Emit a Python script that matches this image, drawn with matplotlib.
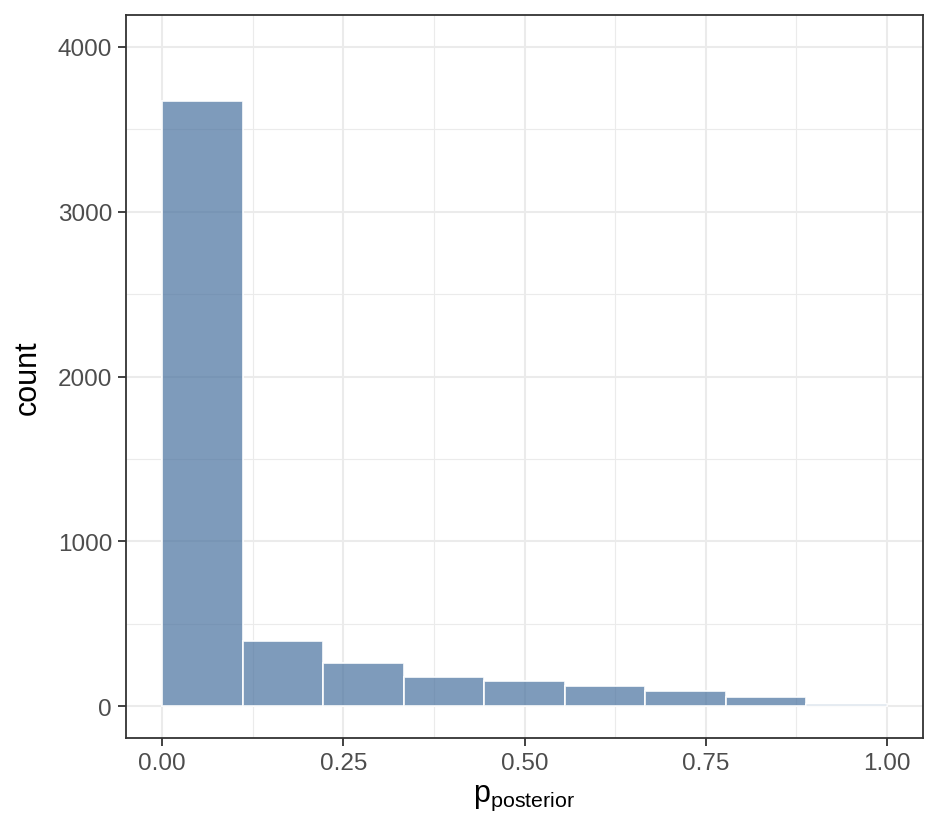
import numpy as np
import matplotlib
matplotlib.use("Agg")
import matplotlib.pyplot as plt
from matplotlib.ticker import MultipleLocator

# histogram of posterior probabilities, 9 bins on [0, 1]
bin_edges = [i / 9 for i in range(10)]
counts = [3670, 396, 260, 175, 150, 124, 90, 55, 12]

x_ticks = [0.0, 0.25, 0.5, 0.75, 1.0]
x_labels = ["0.00", "0.25", "0.50", "0.75", "1.00"]
y_ticks = [0, 1000, 2000, 3000, 4000]

plt.rcParams["font.family"] = ["Liberation Sans", "DejaVu Sans"]
plt.rcParams["mathtext.fontset"] = "custom"
plt.rcParams["mathtext.rm"] = "Liberation Sans"
plt.rcParams["mathtext.it"] = "Liberation Sans"

fig = plt.figure(figsize=(9.41, 8.37), dpi=100)
ax = fig.add_axes([126 / 941, 1 - 739 / 837, (923 - 126) / 941, (739 - 16) / 837])

lefts = np.array(bin_edges[:-1])
widths = np.diff(bin_edges)
# translucent fill (grid shows faintly through), solid-ish white outline
ax.bar(lefts, counts, width=widths, align="edge",
       facecolor=(0.282, 0.443, 0.620, 0.7),
       edgecolor=(1, 1, 1, 0.9), linewidth=1.3, zorder=3)

ax.set_xlim(-0.05, 1.05)
ax.set_ylim(-194, 4194)

ax.set_xticks(x_ticks)
ax.set_xticklabels(x_labels)
ax.set_yticks(y_ticks)
ax.xaxis.set_minor_locator(MultipleLocator(0.125))
ax.yaxis.set_minor_locator(MultipleLocator(500))

ax.grid(which="major", color="#ebebeb", linewidth=1.5, zorder=0)
ax.grid(which="minor", color="#ebebeb", linewidth=0.8, zorder=0)
ax.set_axisbelow(True)

for s in ax.spines.values():
    s.set_color("#333333")
    s.set_linewidth(1.3)

ax.tick_params(which="major", length=6, width=1.3, color="#333333",
               labelsize=17.5, labelcolor="#4d4d4d", pad=4)
ax.tick_params(which="minor", length=0)

ax.set_xlabel(r"$\mathrm{p}_{\mathrm{posterior}}$", fontsize=22, labelpad=6)
ax.set_ylabel("count", fontsize=22, labelpad=11)

fig.savefig("out.png", dpi=100)
